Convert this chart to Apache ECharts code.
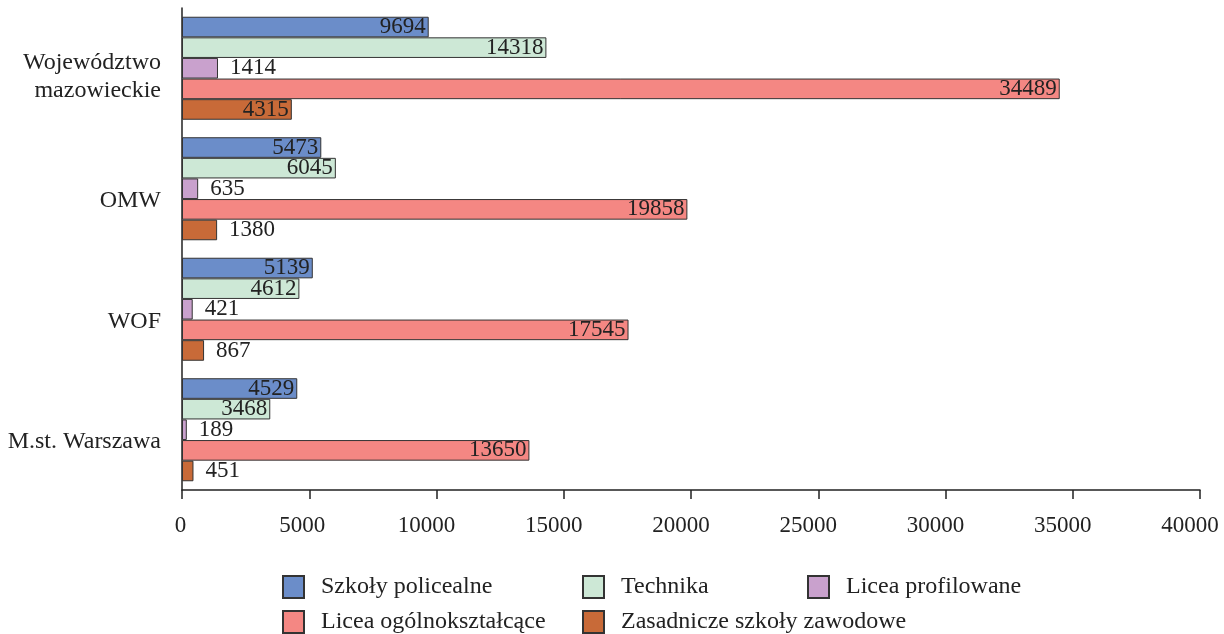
<!DOCTYPE html>
<html>
<head>
<meta charset="utf-8">
<script src="https://cdn.jsdelivr.net/npm/echarts@6/dist/echarts.min.js"></script>
<style>html,body{margin:0;padding:0;background:#fff}#c{width:1224px;height:634px}</style>
</head>
<body>
<div id="c"></div>
<script>
const categories = ['Województwo\nmazowieckie', 'OMW', 'WOF', 'M.st. Warszawa'];
const seriesNames = ['Szkoły policealne', 'Technika', 'Licea profilowane', 'Licea ogólnokształcące', 'Zasadnicze szkoły zawodowe'];
const szkolyPolicealne = [9694, 5473, 5139, 4529];
const technika = [14318, 6045, 4612, 3468];
const liceaProfilowane = [1414, 635, 421, 189];
const liceaOgolnoksztalcace = [34489, 19858, 17545, 13650];
const zasadniczeSzkoly = [4315, 1380, 867, 451];
const xTicks = [0, 5000, 10000, 15000, 20000, 25000, 30000, 35000, 40000];

const colors = ['#6b8dc9', '#cde8d6', '#c9a1cd', '#f48783', '#c86a38'];
const values = [szkolyPolicealne, technika, liceaProfilowane, liceaOgolnoksztalcace, zasadniczeSzkoly];
const FONT = "'Liberation Serif', 'Times New Roman', serif";

const series = seriesNames.map((name, i) => ({
  name,
  type: 'bar',
  barGap: '0%',
  barCategoryGap: '14.5%',
  itemStyle: { color: colors[i], borderColor: '#333', borderWidth: 1 },
  data: values[i].map(v => ({
    value: v,
    label: v > 2000
      ? { position: 'insideRight', distance: 3 }
      : { position: 'right', distance: 12 }
  })),
  label: {
    show: true,
    color: '#222',
    fontFamily: FONT,
    fontSize: 23
  }
}));

const legendPos = [
  { left: 282, top: 575 },
  { left: 582, top: 575 },
  { left: 807, top: 575 },
  { left: 282, top: 610 },
  { left: 582, top: 610 }
];
const legends = seriesNames.map((n, i) => ({
  data: [n],
  left: legendPos[i].left,
  top: legendPos[i].top,
  padding: 0,
  itemWidth: 21,
  itemHeight: 22,
  itemGap: 0,
  icon: 'rect',
  textStyle: { fontFamily: FONT, fontSize: 24, color: '#222', padding: [0, 0, 0, 12] },
  selectedMode: false
}));

const tickRich = {
  d1: { fontFamily: FONT, fontSize: 23, color: '#222', padding: [0, 3, 0, 0] },
  d4: { fontFamily: FONT, fontSize: 23, color: '#222', padding: [0, 14, 0, 0] },
  d5: { fontFamily: FONT, fontSize: 23, color: '#222', padding: [0, 20, 0, 0] }
};
const catRich = {
  s1: { fontSize: 4, lineHeight: 24 },
  s2: { fontSize: 4, lineHeight: 16 },
  c: { fontFamily: FONT, fontSize: 24, color: '#222', lineHeight: 28, align: 'right' }
};

const chart = echarts.init(document.getElementById('c'), null, { renderer: 'canvas' });
chart.setOption({
  animation: false,
  backgroundColor: '#fff',
  legend: legends,
  grid: { left: 182, right: 24, top: 8, bottom: 144, containLabel: false, outerBoundsMode: 'none' },
  xAxis: {
    type: 'value',
    min: xTicks[0],
    max: xTicks[xTicks.length - 1],
    interval: xTicks[1] - xTicks[0],
    splitLine: { show: false },
    axisLine: { show: true, lineStyle: { color: '#222', width: 1.5 } },
    axisTick: { show: true, inside: false, length: 9, lineStyle: { color: '#222', width: 1.5 } },
    axisLabel: {
      margin: 24, color: '#222', fontFamily: FONT, fontSize: 23, hideOverlap: false,
      formatter: v => { const s = String(v); const k = s.length >= 5 ? 'd5' : (s.length === 1 ? 'd1' : 'd4'); return '{' + k + '|' + s + '}'; },
      rich: tickRich
    }
  },
  yAxis: {
    type: 'category',
    data: categories,
    inverse: true,
    axisLine: { show: true, lineStyle: { color: '#222', width: 1.5 } },
    axisTick: { show: false },
    axisLabel: {
      margin: 21, color: '#222', fontFamily: FONT, fontSize: 24, lineHeight: 28, align: 'right',
      formatter: v => {
        const lines = v.split('\n');
        const sp = lines.length > 1 ? '{s2| }' : '{s1| }';
        return sp + '\n' + lines.map(l => '{c|' + l + '}').join('\n');
      },
      rich: catRich
    }
  },
  series
});
</script>
</body>
</html>
